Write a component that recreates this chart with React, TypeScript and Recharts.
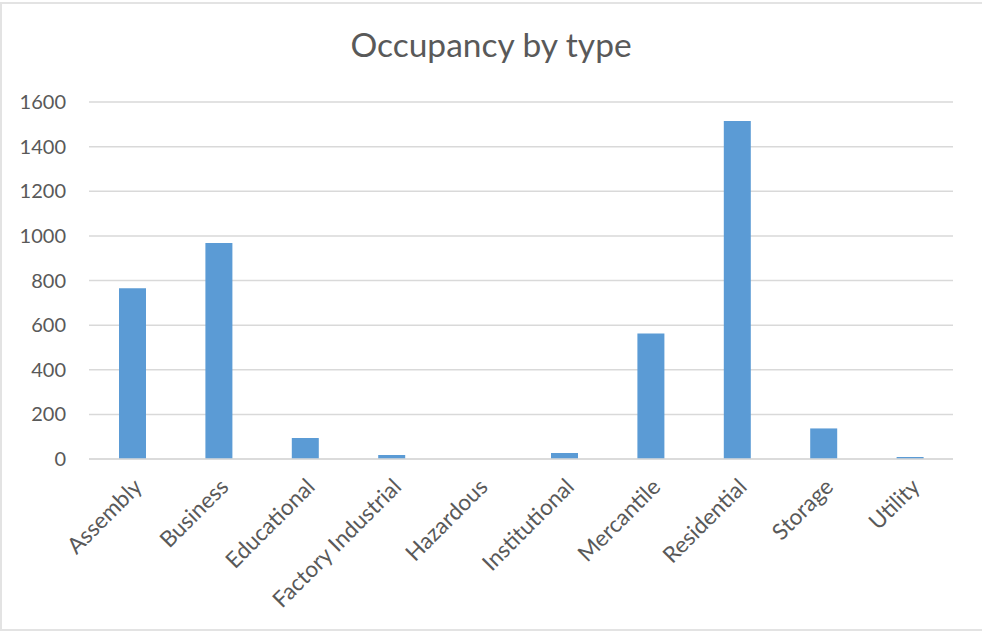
import { BarChart, Bar, XAxis, YAxis, CartesianGrid } from "recharts";

const categories = [
  "Assembly",
  "Business",
  "Educational",
  "Factory Industrial",
  "Hazardous",
  "Institutional",
  "Mercantile",
  "Residential",
  "Storage",
  "Utility",
];
const occupancy = [765, 968, 94, 18, 0, 27, 562, 1515, 137, 9];
const yTicks = [0, 200, 400, 600, 800, 1000, 1200, 1400, 1600];

const data = categories.map((name, i) => ({ name, value: occupancy[i] }));

const font = "Lato, 'Open Sans', sans-serif";
const textColor = "#595959";

export default function App() {
  return (
    <div
      style={{
        position: "absolute",
        left: 0,
        top: 0,
        width: 982,
        height: 633,
        background: "#fff",
        overflow: "hidden",
        fontFamily: font,
      }}
    >
      {/* chart frame */}
      <div
        style={{
          position: "absolute",
          left: 0,
          top: 2,
          width: 990,
          height: 629,
          border: "2px solid #e3e3e3",
          boxSizing: "border-box",
        }}
      />
      <div
        style={{
          position: "absolute",
          left: 0,
          top: 28,
          width: 982,
          textAlign: "center",
          fontSize: 33.5,
          lineHeight: 1,
          color: textColor,
        }}
      >
        Occupancy by type
      </div>
      <div style={{ position: "absolute", left: 0, top: 0 }}>
        <BarChart
          width={982}
          height={633}
          data={data}
          margin={{ top: 102, right: 29, bottom: 24, left: 0 }}
        >
          <CartesianGrid vertical={false} stroke="#d9d9d9" strokeWidth={1.5} />
          <XAxis
            dataKey="name"
            interval={0}
            height={150}
            axisLine={{ stroke: "#d9d9d9", strokeWidth: 1.5 }}
            tickLine={false}
            angle={-45}
            textAnchor="end"
            tickMargin={12}
            tick={{ fill: textColor, fontSize: 22.5, fontFamily: font }}
          />
          <YAxis
            width={89}
            domain={[0, 1600]}
            ticks={yTicks}
            axisLine={false}
            tickLine={false}
            tickSize={0}
            tickMargin={23}
            tick={{ fill: textColor, fontSize: 20, fontFamily: font }}
          />
          <Bar dataKey="value" fill="#5B9BD5" barSize={27} isAnimationActive={false} />
        </BarChart>
      </div>
    </div>
  );
}
